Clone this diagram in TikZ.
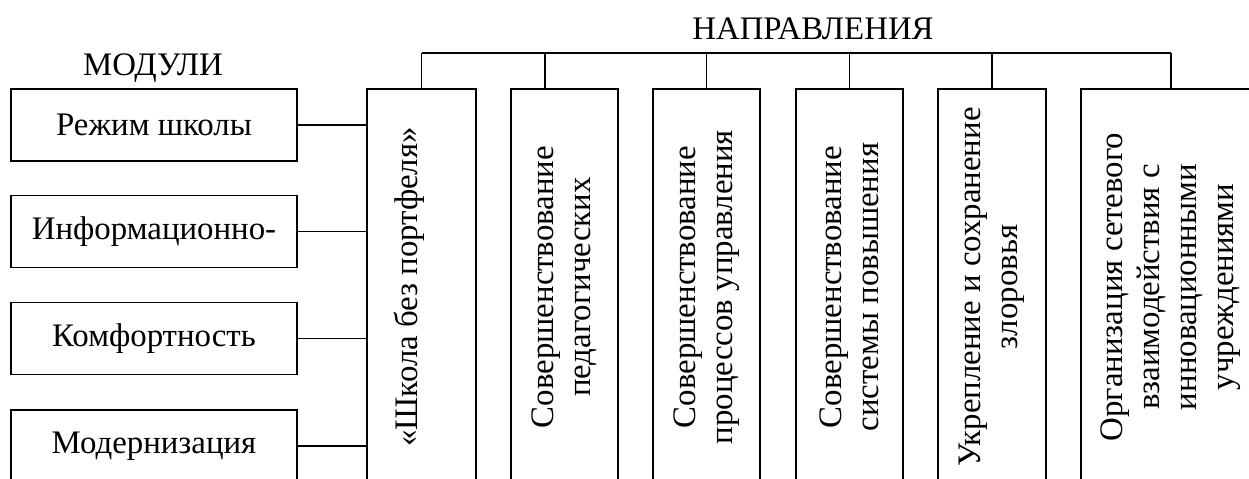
\documentclass[tikz,border=0pt]{standalone}
\usepackage{fontspec}
\setmainfont{Liberation Serif}
\usepackage{tikz}

\begin{document}
\begin{tikzpicture}
[x=0.02cm,y=-0.02cm,font=\fontsize{18.7pt}{21pt}\selectfont,
modbox/.style={draw,line width=0.9pt,minimum width=5.72cm,minimum height=1.44cm,inner sep=0pt},
dirbox/.style={draw,line width=0.9pt,rotate=90,minimum width=7.92cm,minimum height=2.14cm,inner sep=0pt,align=center},
link/.style={line width=0.9pt}]
\useasboundingbox (0,0) rectangle (1249,478);
\clip (0,0) rectangle (1249,478);

\node[anchor=base] (h1) at (153,75) {МОДУЛИ};
\node[anchor=base] (h2) at (813,39) {НАПРАВЛЕНИЯ};

\node[modbox] (m1) at (154,125) {Режим школы};
\node[modbox] (m2) at (154,231.5) {Информационно-};
\node[modbox] (m3) at (154,338.5) {Комфортность};
\node[modbox] (m4) at (154,446) {Модернизация};

\node[dirbox,minimum height=2.18cm] (d1) at (421.5,287) {\raisebox{0.09cm}[0pt][0pt]{«Школа без портфеля»}};
\node[dirbox] (d2) at (564.5,287) {Совершенствование\\педагогических};
\node[dirbox] (d3) at (706.5,287) {Совершенствование\\процессов управления};
\node[dirbox] (d4) at (849.5,287) {Совершенствование\\системы повышения};
\node[dirbox,minimum height=2.16cm] (d5) at (992,287) {Укрепление и сохранение\\злоровья};
\node[dirbox,minimum height=3.6cm] (d6) at (1171,287) {Организация сетевого\\взаимодействия с\\инновационными\\учреждениями};

\coordinate (busL) at (421.5,53);
\coordinate (busR) at (1171,53);
\coordinate (d2top) at ([xshift=0.7cm]d2.north east);

\foreach \m in {m1,m2,m3,m4}
\draw[link] (\m.east) -- (\m.east -| d1.north);
\draw[link] (busL) -- (busR);
\foreach \d in {d1,d3,d4,d5,d6}
\draw[link] (\d.east) -- (\d.east |- busL);
\draw[link] (d2top) -- (d2top |- busL);
\end{tikzpicture}
\end{document}
